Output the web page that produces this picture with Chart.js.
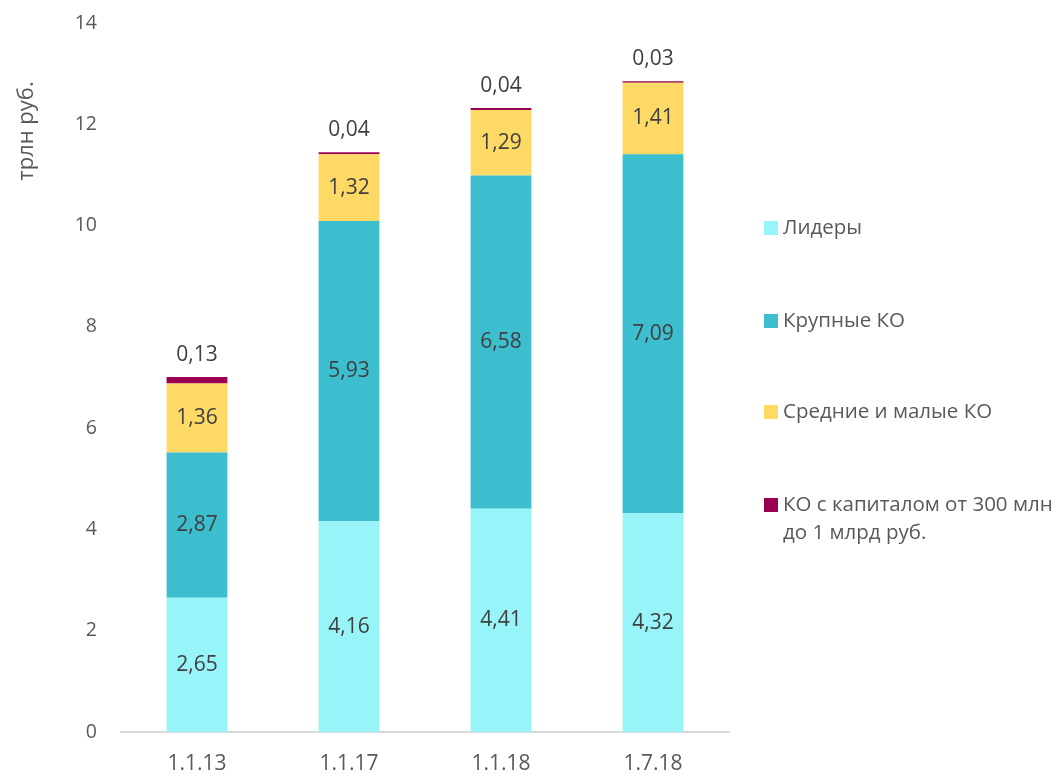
<!DOCTYPE html>
<html><head><meta charset="utf-8">
<script src="https://cdn.jsdelivr.net/npm/chart.js@4"></script>
<style>html,body{margin:0;padding:0;background:#fff}#wrap{width:1061px;height:775px;position:relative}</style>
</head><body><div id="wrap"><canvas id="c" width="1061" height="775"></canvas></div>
<script>
const categories = ['1.1.13','1.1.17','1.1.18','1.7.18'];
const leaders = [2.65, 4.16, 4.41, 4.32];
const largeKO = [2.87, 5.93, 6.58, 7.09];
const midSmallKO = [1.36, 1.32, 1.29, 1.41];
const capitalKO = [0.13, 0.04, 0.04, 0.03];
const seriesNames = ['Лидеры','Крупные КО','Средние и малые КО',['КО с капиталом от 300 млн','до 1 млрд руб.']];
const colors = ['#97F4F8','#3CBECE','#FFD966','#99004F'];
const yTitle = 'трлн руб.';
const FONT = '"Open Sans", Lato, sans-serif';

const labelPlugin = {
  id:'labels',
  afterDatasetsDraw(chart){
    const ctx = chart.ctx;
    ctx.save();
    ctx.font = '21px ' + FONT;
    ctx.fillStyle = '#404040';
    ctx.textAlign = 'center';
    ctx.textBaseline = 'middle';
    chart.data.datasets.forEach((ds, di) => {
      const meta = chart.getDatasetMeta(di);
      meta.data.forEach((bar, i) => {
        const txt = ds.data[i].toFixed(2).replace('.', ',');
        if (di === 3) {
          ctx.fillText(txt, bar.x, bar.y - 22);
        } else {
          ctx.fillText(txt, bar.x, (bar.y + bar.base) / 2);
        }
      });
    });
    // y axis title
    ctx.save();
    ctx.translate(27, 131);
    ctx.rotate(-Math.PI/2);
    ctx.fillStyle = '#595959';
    ctx.font = '22px ' + FONT;
    ctx.fillText(yTitle, 0, 0);
    ctx.restore();
    // legend
    const ys = [228, 321, 412, 505];
    ctx.textAlign = 'left';
    ctx.font = '20.5px ' + FONT;
    chart.data.datasets.forEach((ds, di) => {
      ctx.fillStyle = colors[di];
      ctx.fillRect(764, ys[di] - 7, 14, 14);
      ctx.fillStyle = '#595959';
      const lines = Array.isArray(seriesNames[di]) ? seriesNames[di] : [seriesNames[di]];
      lines.forEach((l, k) => ctx.fillText(l, 783, ys[di] + k * 28));
    });
    ctx.restore();
  }
};

new Chart(document.getElementById('c'), {
  type:'bar',
  data:{
    labels: categories,
    datasets:[leaders, largeKO, midSmallKO, capitalKO].map((d, i) => ({
      label: Array.isArray(seriesNames[i]) ? seriesNames[i].join(' ') : seriesNames[i],
      data: d, backgroundColor: colors[i], borderWidth:0,
      barPercentage:0.4, categoryPercentage:1
    }))
  },
  options:{
    responsive:false, animation:false,
    layout:{padding:{top:23, right:332, left:0, bottom:0}},
    plugins:{legend:{display:false}, tooltip:{enabled:false}},
    scales:{
      x:{stacked:true, grid:{display:false, drawTicks:false}, border:{display:true, color:'#D9D9D9', width:2},
         ticks:{color:'#595959', font:{family:FONT, size:21}, padding:19},
         afterFit(s){ s.height = 43; s.paddingLeft = 0; s.paddingRight = 0; }},
      y:{stacked:true, min:0, max:14, grid:{display:false, drawTicks:false}, border:{display:false},
         ticks:{stepSize:2, color:'#595959', font:{family:FONT, size:19.5}, padding:24},
         afterFit(s){ s.width = 121; s.paddingTop = 0; s.paddingBottom = 0; }}
    }
  },
  plugins:[labelPlugin]
});
</script></body></html>
